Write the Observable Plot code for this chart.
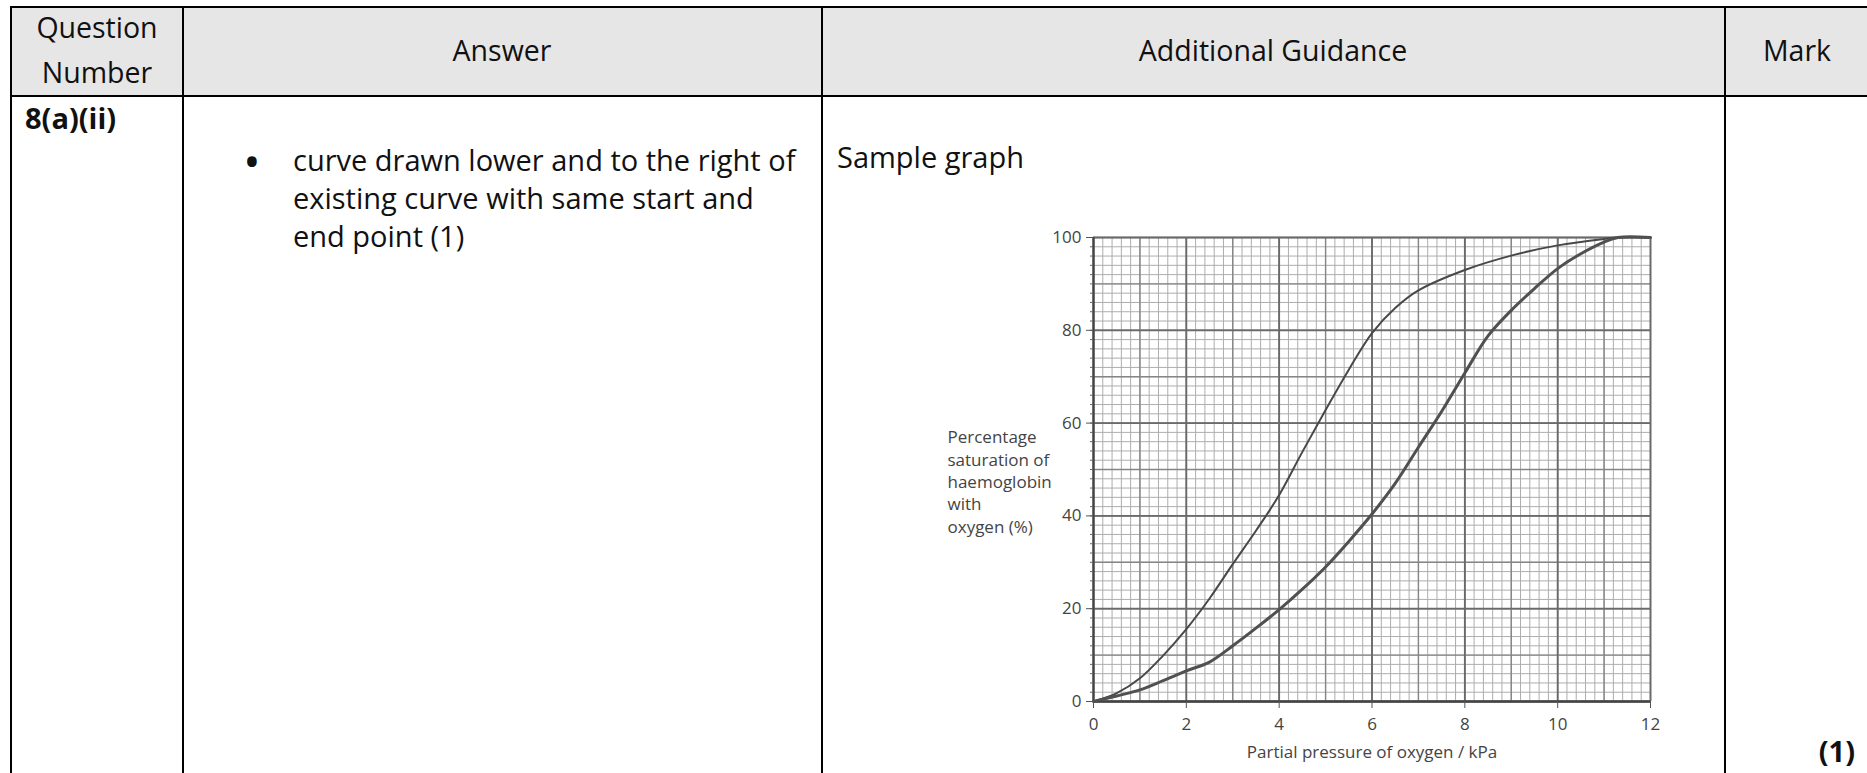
<!DOCTYPE html>
<html><head><meta charset="utf-8">
<script src="https://cdn.jsdelivr.net/npm/d3@7"></script>
<script src="https://cdn.jsdelivr.net/npm/@observablehq/plot@0.6"></script>
<style>
html,body{margin:0;padding:0;background:#fff;width:1867px;height:773px;overflow:hidden;}
#page{position:relative;width:1867px;height:773px;font-family:"Open Sans",sans-serif;}
#table{position:absolute;left:0;top:0;}
#chart{position:absolute;left:900px;top:200px;}
</style></head><body>
<div id="page">
<svg id="table" width="1867" height="773" xmlns="http://www.w3.org/2000/svg" font-family="Open Sans" fill="#111">
  <rect x="11" y="7" width="1860" height="89" fill="#e6e6e6"/>
  <g stroke="#000" stroke-width="2">
    <line x1="10" y1="7" x2="1867" y2="7"/>
    <line x1="10" y1="96" x2="1867" y2="96"/>
    <line x1="11" y1="6" x2="11" y2="773"/>
    <line x1="183" y1="6" x2="183" y2="773"/>
    <line x1="822" y1="6" x2="822" y2="773"/>
    <line x1="1725" y1="6" x2="1725" y2="773"/>
  </g>
  <g font-size="28.5" text-anchor="middle" fill="#111">
    <text x="97" y="38">Question</text>
    <text x="97" y="83">Number</text>
    <text x="502" y="61">Answer</text>
    <text x="1273" y="61">Additional Guidance</text>
    <text x="1797" y="61">Mark</text>
  </g>
  <g font-size="29" fill="#111">
    <text x="25" y="129" font-weight="bold">8(a)(ii)</text>
    <text x="252" y="178" font-size="46" text-anchor="middle">•</text>
    <text x="293" y="170.5">curve drawn lower and to the right of</text>
    <text x="293" y="208.5">existing curve with same start and</text>
    <text x="293" y="246.5">end point (1)</text>
    <text x="837" y="168">Sample graph</text>
    <text x="1855" y="762" text-anchor="end" font-weight="bold">(1)</text>
  </g>
</svg>
<div id="chart"></div>
</div>
<script>
// Original curve (thin line)
const kpaOriginal = [0, 0.5, 1, 1.5, 2, 2.5, 3, 3.5, 4, 4.5, 5, 5.5, 6, 6.5, 7, 8, 9, 10, 11, 11.3, 12];
const satOriginal = [0, 1.8, 5, 9.9, 15.6, 22.2, 29.6, 36.8, 44.5, 53.8, 62.8, 71.5, 79.4, 84.8, 88.6, 93, 96.1, 98.3, 99.7, 100, 100];
// New curve (thick line, lower and to the right)
const kpaShifted = [0, 0.5, 1, 1.5, 2, 2.5, 3, 3.5, 4, 4.5, 5, 5.5, 6, 6.5, 7, 7.5, 8, 8.5, 9, 9.5, 10, 10.5, 11, 11.3, 12];
const satShifted = [0, 1.2, 2.5, 4.5, 6.6, 8.5, 12, 15.8, 19.8, 24.2, 29, 34.5, 40.4, 47, 54.8, 62.5, 70.8, 78.8, 84.3, 89, 93.3, 96.5, 99, 100, 100];
// Axis ticks and labels
const xTicks = [0, 2, 4, 6, 8, 10, 12];
const yTicks = [0, 20, 40, 60, 80, 100];
const xTitle = "Partial pressure of oxygen / kPa";
const yTitle = "Percentage\nsaturation of\nhaemoglobin\nwith\noxygen (%)";

const original = kpaOriginal.map((x, i) => ({x, y: satOriginal[i]}));
const shifted = kpaShifted.map((x, i) => ({x, y: satShifted[i]}));

// graph-paper grid positions
const fineX = d3.range(0, 61).map(i => +(i * 0.2).toFixed(1));
const fineY = d3.range(0, 51).map(i => i * 2);
const midX = d3.range(0, 13);
const midY = d3.range(0, 11).map(i => i * 10);

const plot = Plot.plot({
  width: 800,
  height: 561,
  marginLeft: 193,
  marginRight: 50,
  marginTop: 37,
  marginBottom: 60,
  x: {domain: [0, 12]},
  y: {domain: [0, 100]},
  style: {fontFamily: "Open Sans", fontSize: "17px", color: "#444", background: "transparent", overflow: "visible"},
  marks: [
    Plot.ruleX(fineX, {stroke: "#adadad", strokeWidth: 1}),
    Plot.ruleY(fineY, {stroke: "#adadad", strokeWidth: 1}),
    Plot.ruleX(midX, {stroke: "#858585", strokeWidth: 1.4}),
    Plot.ruleY(midY, {stroke: "#858585", strokeWidth: 1.4}),
    Plot.ruleX(xTicks, {stroke: "#6a6a6a", strokeWidth: 1.8}),
    Plot.ruleY(yTicks, {stroke: "#6a6a6a", strokeWidth: 1.8}),
    Plot.ruleX([0], {stroke: "#444", strokeWidth: 2.2}),
    Plot.ruleY([0], {stroke: "#444", strokeWidth: 2.4}),
    Plot.axisY(fineY, {tickSize: 3, text: null, stroke: "#666", label: null}),
    Plot.axisX(xTicks, {tickSize: 7, tickPadding: 9, stroke: "#555", label: null}),
    Plot.axisY(yTicks, {tickSize: 7, tickPadding: 5, stroke: "#555", label: null}),
    Plot.text([xTitle], {frameAnchor: "bottom", lineAnchor: "bottom", dy: 56, fill: "#444", fontSize: 17}),
    Plot.text([yTitle], {frameAnchor: "left", textAnchor: "start", lineAnchor: "bottom", lineHeight: 1.31, dx: -146, dy: 63, fill: "#444", fontSize: 17}),
    Plot.line(original, {x: "x", y: "y", curve: "catmull-rom", stroke: "#484848", strokeWidth: 2}),
    Plot.line(shifted, {x: "x", y: "y", curve: "catmull-rom", stroke: "#505050", strokeWidth: 3})
  ]
});
document.getElementById("chart").appendChild(plot);
</script>
</body></html>
